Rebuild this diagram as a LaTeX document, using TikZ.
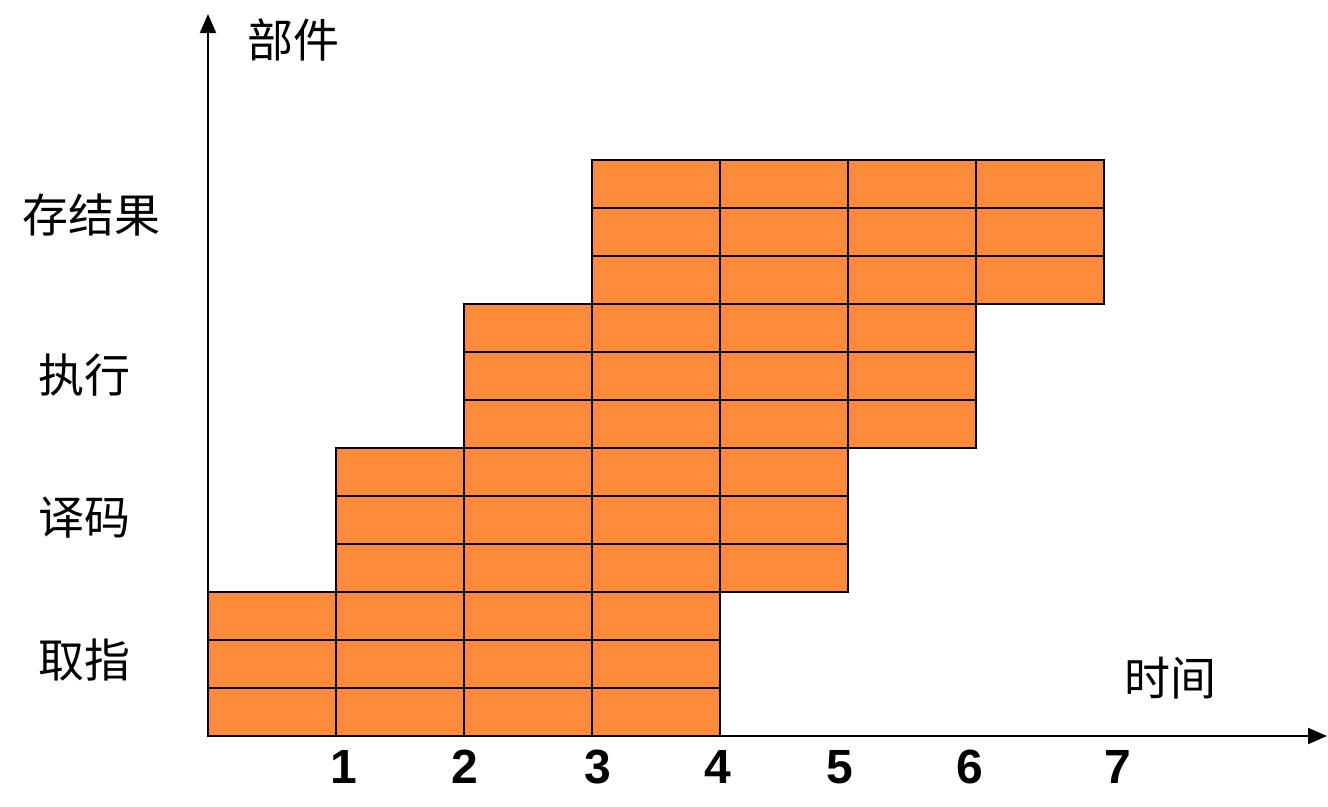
\documentclass[tikz,border=0pt]{standalone}
\usepackage{fontspec}
\setmainfont{Liberation Sans}
\newfontfamily\cjk{Noto Sans CJK SC}
\usetikzlibrary{arrows.meta}
\definecolor{cellorange}{RGB}{255,140,58}
\begin{document}
\begin{tikzpicture}[x=1pt,y=-1pt,
  cell/.style={draw=black,line width=2pt,fill=cellorange},
  axis/.style={draw=black,line width=2pt,-{Triangle[length=19pt,width=16pt]}},
  zh/.style={font=\cjk\fontsize{46}{46}\selectfont,inner sep=0pt},
  num/.style={font=\bfseries\fontsize{48}{48}\selectfont,inner sep=0pt}]
\useasboundingbox (0,0) rectangle (1328,806);
\foreach \r in {0,1,2,3}{
  \foreach \i in {0,1,2,3}{
    \foreach \j in {0,1,2}{
      \draw[cell] ({208+128*(\r+\i)},{592-144*\r+48*\j}) rectangle ++(128,48);
    }
  }
}
\coordinate (origin) at (208,736);
\coordinate (ytop) at (208,14);
\coordinate (xend) at (1327,736);
\draw[axis] (origin) -- (ytop);
\draw[axis] (origin) -- (xend);
\node[zh] (ylab) at (293,40) {部件};
\node[zh] (xlab) at (1170,678) {时间};
\node[zh] (s4) at (92,215) {存结果};
\node[zh] (s3) at (84,375) {执行};
\node[zh] (s2) at (84,518) {译码};
\node[zh] (s1) at (84,660) {取指};
\node[num] (n1) at (344,767) {1};
\node[num] (n2) at (465,767) {2};
\node[num] (n3) at (598,767) {3};
\node[num] (n4) at (718,767) {4};
\node[num] (n5) at (840,767) {5};
\node[num] (n6) at (970,767) {6};
\node[num] (n7) at (1118,767) {7};
\end{tikzpicture}
\end{document}
